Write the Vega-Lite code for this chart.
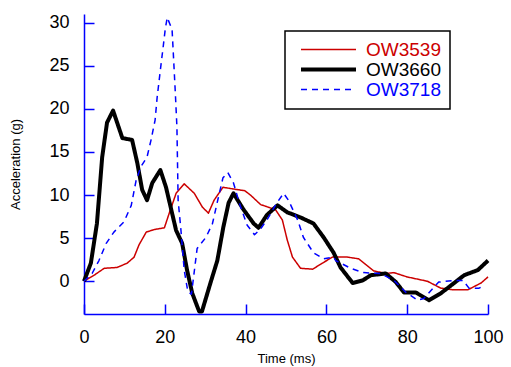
{
  "$schema": "https://vega.github.io/schema/vega-lite/v6.json",
  "autosize": "none",
  "width": 404,
  "height": 300,
  "padding": {"left": 84, "top": 14, "right": 23, "bottom": 53},
  "background": "white",
  "data": {"values": [
    {"s":"OW3539","t":0,"a":0},{"s":"OW3539","t":2.5,"a":0.7},{"s":"OW3539","t":5,"a":1.5},{"s":"OW3539","t":8.2,"a":1.6},{"s":"OW3539","t":10.7,"a":2.1},{"s":"OW3539","t":12.4,"a":2.8},{"s":"OW3539","t":13.6,"a":4.2},{"s":"OW3539","t":15.4,"a":5.7},{"s":"OW3539","t":17.4,"a":6.0},{"s":"OW3539","t":19.9,"a":6.2},{"s":"OW3539","t":21.1,"a":7.9},{"s":"OW3539","t":22.8,"a":10.2},{"s":"OW3539","t":24.8,"a":11.3},{"s":"OW3539","t":27.3,"a":10.2},{"s":"OW3539","t":29.3,"a":8.6},{"s":"OW3539","t":30.8,"a":7.9},{"s":"OW3539","t":32.2,"a":9.4},{"s":"OW3539","t":34.4,"a":10.9},{"s":"OW3539","t":37,"a":10.7},{"s":"OW3539","t":39.8,"a":10.5},{"s":"OW3539","t":41.2,"a":10.0},{"s":"OW3539","t":43.7,"a":8.9},{"s":"OW3539","t":47.4,"a":8.3},{"s":"OW3539","t":49.1,"a":7.1},{"s":"OW3539","t":50.3,"a":4.8},{"s":"OW3539","t":51.6,"a":2.8},{"s":"OW3539","t":53.6,"a":1.5},{"s":"OW3539","t":56.6,"a":1.4},{"s":"OW3539","t":59,"a":2.1},{"s":"OW3539","t":61.5,"a":2.8},{"s":"OW3539","t":65.2,"a":2.8},{"s":"OW3539","t":68,"a":2.6},{"s":"OW3539","t":71.7,"a":1.2},{"s":"OW3539","t":74.7,"a":0.9},{"s":"OW3539","t":76.7,"a":1.0},{"s":"OW3539","t":80,"a":0.5},{"s":"OW3539","t":85,"a":0.0},{"s":"OW3539","t":88.3,"a":-0.8},{"s":"OW3539","t":91.5,"a":-1.0},{"s":"OW3539","t":95,"a":-1.0},{"s":"OW3539","t":98.3,"a":-0.2},{"s":"OW3539","t":100,"a":0.5},
    {"s":"OW3660","t":0,"a":0},{"s":"OW3660","t":1.7,"a":2.1},{"s":"OW3660","t":3.2,"a":6.7},{"s":"OW3660","t":4.5,"a":14.4},{"s":"OW3660","t":5.7,"a":18.4},{"s":"OW3660","t":7.2,"a":19.8},{"s":"OW3660","t":8.2,"a":18.4},{"s":"OW3660","t":9.5,"a":16.6},{"s":"OW3660","t":11.9,"a":16.4},{"s":"OW3660","t":13.2,"a":13.7},{"s":"OW3660","t":14.4,"a":10.6},{"s":"OW3660","t":15.6,"a":9.4},{"s":"OW3660","t":16.9,"a":11.4},{"s":"OW3660","t":18.9,"a":12.9},{"s":"OW3660","t":20.3,"a":10.9},{"s":"OW3660","t":21.6,"a":8.3},{"s":"OW3660","t":22.8,"a":5.9},{"s":"OW3660","t":24.3,"a":4.4},{"s":"OW3660","t":25.5,"a":1.3},{"s":"OW3660","t":26.8,"a":-1.4},{"s":"OW3660","t":28.5,"a":-3.5},{"s":"OW3660","t":29.2,"a":-3.5},{"s":"OW3660","t":31.3,"a":-0.2},{"s":"OW3660","t":33,"a":2.4},{"s":"OW3660","t":34.5,"a":6.3},{"s":"OW3660","t":35.8,"a":9.1},{"s":"OW3660","t":37,"a":10.2},{"s":"OW3660","t":39.5,"a":8.3},{"s":"OW3660","t":42,"a":6.7},{"s":"OW3660","t":43.2,"a":6.2},{"s":"OW3660","t":45.3,"a":7.7},{"s":"OW3660","t":47.9,"a":8.8},{"s":"OW3660","t":50.3,"a":8.0},{"s":"OW3660","t":53.6,"a":7.4},{"s":"OW3660","t":56.8,"a":6.7},{"s":"OW3660","t":59.3,"a":5.1},{"s":"OW3660","t":61.8,"a":3.3},{"s":"OW3660","t":63.5,"a":1.6},{"s":"OW3660","t":66.5,"a":-0.2},{"s":"OW3660","t":69,"a":0.1},{"s":"OW3660","t":71,"a":0.7},{"s":"OW3660","t":74.7,"a":0.9},{"s":"OW3660","t":77.2,"a":-0.1},{"s":"OW3660","t":79.2,"a":-1.3},{"s":"OW3660","t":82.1,"a":-1.3},{"s":"OW3660","t":85.4,"a":-2.2},{"s":"OW3660","t":88.3,"a":-1.4},{"s":"OW3660","t":90.8,"a":-0.5},{"s":"OW3660","t":94.1,"a":0.7},{"s":"OW3660","t":97.5,"a":1.3},{"s":"OW3660","t":100,"a":2.4},
    {"s":"OW3718","t":0,"a":0},{"s":"OW3718","t":2,"a":0.9},{"s":"OW3718","t":3.7,"a":2.4},{"s":"OW3718","t":5.5,"a":4.4},{"s":"OW3718","t":7.4,"a":5.7},{"s":"OW3718","t":9.9,"a":6.9},{"s":"OW3718","t":11.7,"a":8.8},{"s":"OW3718","t":12.9,"a":11.7},{"s":"OW3718","t":14.1,"a":13.3},{"s":"OW3718","t":15.6,"a":14.4},{"s":"OW3718","t":16.6,"a":16.4},{"s":"OW3718","t":17.6,"a":18.7},{"s":"OW3718","t":18.1,"a":21.3},{"s":"OW3718","t":18.9,"a":24.5},{"s":"OW3718","t":19.6,"a":27.2},{"s":"OW3718","t":20.1,"a":29.2},{"s":"OW3718","t":20.6,"a":30.6},{"s":"OW3718","t":21.8,"a":29.2},{"s":"OW3718","t":22.1,"a":26.5},{"s":"OW3718","t":22.6,"a":21.9},{"s":"OW3718","t":23,"a":17.9},{"s":"OW3718","t":23.3,"a":9.4},{"s":"OW3718","t":24,"a":5.9},{"s":"OW3718","t":24.8,"a":1.3},{"s":"OW3718","t":25.7,"a":-1.2},{"s":"OW3718","t":26.6,"a":-1.5},{"s":"OW3718","t":28,"a":3.8},{"s":"OW3718","t":30.2,"a":5.1},{"s":"OW3718","t":31.8,"a":6.7},{"s":"OW3718","t":33.2,"a":9.6},{"s":"OW3718","t":34.4,"a":12.0},{"s":"OW3718","t":35.6,"a":12.6},{"s":"OW3718","t":37,"a":11.4},{"s":"OW3718","t":38.7,"a":8.7},{"s":"OW3718","t":40.4,"a":6.5},{"s":"OW3718","t":42.2,"a":5.4},{"s":"OW3718","t":43.6,"a":6.0},{"s":"OW3718","t":45.4,"a":7.2},{"s":"OW3718","t":47.6,"a":9.0},{"s":"OW3718","t":49.4,"a":10.2},{"s":"OW3718","t":50.6,"a":9.4},{"s":"OW3718","t":52.9,"a":7.1},{"s":"OW3718","t":54.3,"a":5.1},{"s":"OW3718","t":56.8,"a":3.3},{"s":"OW3718","t":59.3,"a":2.6},{"s":"OW3718","t":61.8,"a":2.8},{"s":"OW3718","t":62.3,"a":2.4},{"s":"OW3718","t":66,"a":1.5},{"s":"OW3718","t":69.2,"a":1.0},{"s":"OW3718","t":73.4,"a":0.9},{"s":"OW3718","t":76.7,"a":0.1},{"s":"OW3718","t":79.7,"a":-1.3},{"s":"OW3718","t":82.6,"a":-2.2},{"s":"OW3718","t":84.1,"a":-2.0},{"s":"OW3718","t":86.4,"a":-0.8},{"s":"OW3718","t":87.8,"a":-0.1},{"s":"OW3718","t":91.6,"a":0.1},{"s":"OW3718","t":93.8,"a":0.1},{"s":"OW3718","t":95.3,"a":-0.8},{"s":"OW3718","t":97.8,"a":-0.8},{"s":"OW3718","t":99,"a":-0.5}
  ]},
  "mark": {"type": "line", "interpolate": "linear", "strokeJoin": "round", "strokeCap": "butt"},
  "encoding": {
    "x": {"field": "t", "type": "quantitative", "scale": {"domain": [0, 100], "nice": false, "zero": false},
      "axis": {"title": "Time (ms)", "values": [0, 20, 40, 60, 80, 100], "labelPadding": 24, "titlePadding": 6, "labelFlush": false, "labelOverlap": false}},
    "y": {"field": "a", "type": "quantitative", "scale": {"domain": [-3.8, 31], "nice": false, "zero": false},
      "axis": {"title": "Acceleration (g)", "values": [0, 5, 10, 15, 20, 25, 30], "labelPadding": 25, "titlePadding": 26, "labelOverlap": false}},
    "color": {"field": "s", "type": "nominal",
      "scale": {"domain": ["OW3539", "OW3660", "OW3718"], "range": ["#cc0000", "#000000", "#0000ff"]},
      "legend": {"title": null, "orient": "none", "legendX": 201, "legendY": 17, "rowPadding": 0, "padding": 9,
        "symbolType": "M-1,0H9", "symbolSize": 121,
        "symbolStrokeWidth": {"expr": "datum.value === 'OW3660' ? 4 : 1.5"},
        "symbolDash": {"expr": "datum.value === 'OW3718' ? [6, 5] : [1, 0]"},
        "labelColor": {"expr": "datum.label == 'OW3539' ? '#cc0000' : datum.label == 'OW3718' ? '#0000ff' : '#000000'"}}},
    "strokeWidth": {"condition": {"test": "datum.s === 'OW3660'", "value": 4}, "value": 1.5},
    "strokeDash": {"condition": {"test": "datum.s === 'OW3718'", "value": [6, 5]}, "value": [1, 0]}
  },
  "config": {
    "view": {"stroke": null},
    "axis": {"domainColor": "#0000ff", "tickColor": "#0000ff", "domainWidth": 1.5, "tickWidth": 1.5, "tickSize": -10, "grid": false,
      "labelFont": "Liberation Sans", "labelFontSize": 18, "labelColor": "#000000",
      "titleFont": "Liberation Sans", "titleFontSize": 13, "titleFontWeight": "normal", "titleColor": "#000000"},
    "legend": {"strokeColor": "#000000", "strokeWidth": 1.5, "fillColor": "#ffffff",
      "symbolOffset": 3, "labelOffset": 50, "labelFont": "Liberation Sans", "labelFontSize": 19, "labelLimit": 200}
  }
}
